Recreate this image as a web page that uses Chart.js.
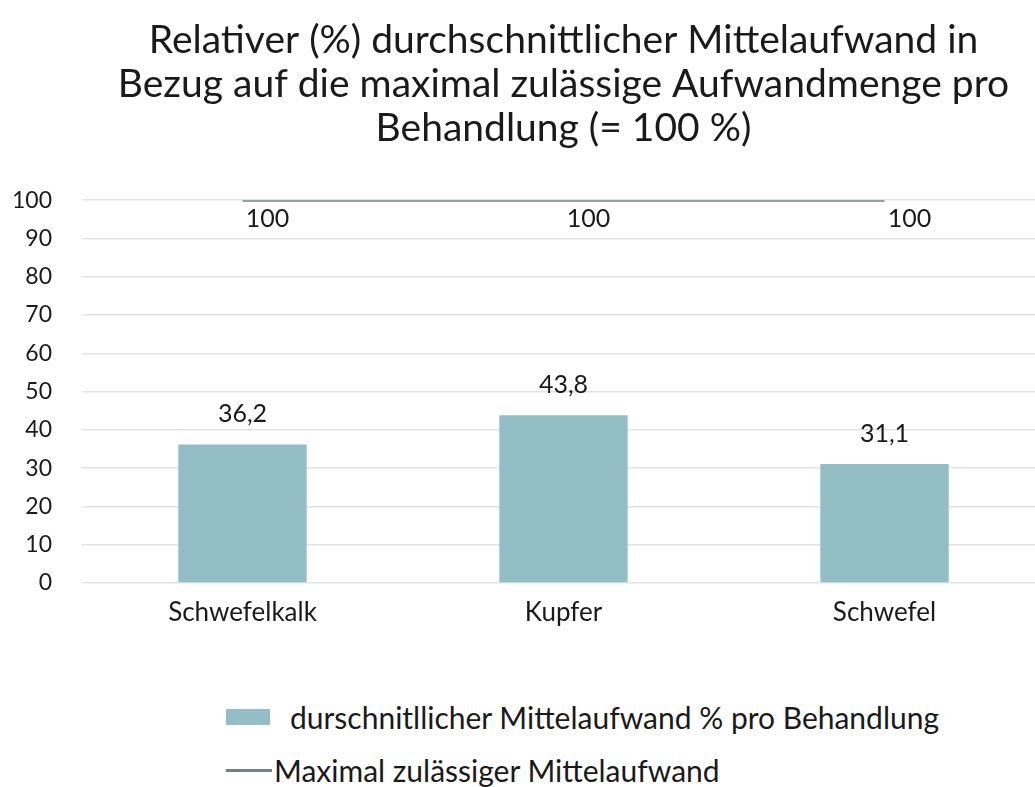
<!DOCTYPE html>
<html>
<head>
<meta charset="utf-8">
<script src="https://cdn.jsdelivr.net/npm/chart.js@4"></script>
<style>
  html, body { margin: 0; padding: 0; background: #fff; overflow: hidden; width: 1035px; height: 787px; }
  #wrap { position: absolute; left: 0; top: 0; width: 1050px; height: 650px; }
  #legend { position: absolute; left: 226px; top: 697px; font-family: Lato, sans-serif; font-size: 30px; color: #1a1a1a; }
  .row { display: flex; align-items: center; height: 40px; margin-bottom: 13px; }
  .box { width: 44px; height: 16px; margin-right: 20px; }
  .ln { width: 46px; height: 3px; margin-right: 2px; }
</style>
</head>
<body>
<div id="wrap"><canvas id="relAufwand"></canvas></div>
<div id="legend"></div>
<script>
const categories = ['Schwefelkalk', 'Kupfer', 'Schwefel'];
const avgValues = [36.2, 43.8, 31.1];
const maxValues = [100, 100, 100];
const yTicks = [0, 10, 20, 30, 40, 50, 60, 70, 80, 90, 100];

const barColor = '#93bec6';
const lineColor = '#6f8481';
const font = 'Lato, sans-serif';

const fmt = v => String(v).replace('.', ',');

// value labels: above the bars, under the line and a bit to the right
const valueLabels = {
  id: 'valueLabels',
  afterDatasetsDraw(chart) {
    const ctx = chart.ctx;
    ctx.save();
    ctx.font = '25px ' + font;
    ctx.fillStyle = '#1a1a1a';
    ctx.textAlign = 'center';
    ctx.textBaseline = 'middle';
    chart.getDatasetMeta(1).data.forEach((el, i) => {
      ctx.fillText(fmt(avgValues[i]), el.x, el.y - 30);
    });
    chart.getDatasetMeta(0).data.forEach((el, i) => {
      ctx.fillText(fmt(maxValues[i]), el.x + 25, el.y + 19);
    });
    ctx.restore();
  }
};

const relAufwand = document.getElementById('relAufwand');

const chart = new Chart(relAufwand, {
  type: 'bar',
  data: {
    labels: categories,
    datasets: [
      {
        type: 'line',
        label: 'Maximal zulässiger Mittelaufwand',
        data: maxValues,
        borderColor: lineColor,
        borderWidth: 3,
        pointRadius: 0,
        fill: false,
        order: 0
      },
      {
        label: 'durschnitllicher Mittelaufwand % pro Behandlung',
        data: avgValues,
        backgroundColor: barColor,
        categoryPercentage: 1,
        barPercentage: 0.4,
        order: 1
      }
    ]
  },
  plugins: [valueLabels],
  options: {
    responsive: true,
    maintainAspectRatio: false,
    animation: false,
    layout: { padding: { left: 10, right: 5, bottom: 22 } },
    plugins: {
      legend: { display: false },
      tooltip: { enabled: false },
      title: {
        display: true,
        fullSize: false, // centre over the plot area, not the whole canvas
        text: ['Relativer (%) durchschnittlicher Mittelaufwand in',
               'Bezug auf die maximal zulässige Aufwandmenge pro',
               'Behandlung (= 100 %)'],
        color: '#1a1a1a',
        font: { family: font, size: 39, weight: 'normal', lineHeight: 1.13 },
        padding: { top: 18, bottom: 50 }
      }
    },
    scales: {
      x: {
        afterFit: s => { s.height = 45; },
        grid: { display: false, drawTicks: false },
        border: { display: false },
        ticks: { color: '#1a1a1a', font: { family: font, size: 26 }, padding: 14 }
      },
      y: {
        min: 0,
        max: 100,
        afterBuildTicks: s => { s.ticks = yTicks.map(v => ({ value: v })); },
        afterFit: s => { s.width = 72; },
        grid: { color: '#e3e3e3', lineWidth: 1.5, drawTicks: false },
        border: { display: false },
        ticks: { color: '#1a1a1a', font: { family: font, size: 23 }, padding: 30 }
      }
    }
  }
});

// html legend, bar first then line like the original
const legend = document.getElementById('legend');
[1, 0].forEach(i => {
  const ds = chart.data.datasets[i];
  const row = document.createElement('div');
  row.className = 'row';
  const sym = document.createElement('span');
  sym.className = ds.type === 'line' ? 'ln' : 'box';
  sym.style.background = ds.type === 'line' ? ds.borderColor : ds.backgroundColor;
  row.appendChild(sym);
  const txt = document.createElement('span');
  txt.textContent = ds.label;
  row.appendChild(txt);
  legend.appendChild(row);
});
</script>
</body>
</html>
